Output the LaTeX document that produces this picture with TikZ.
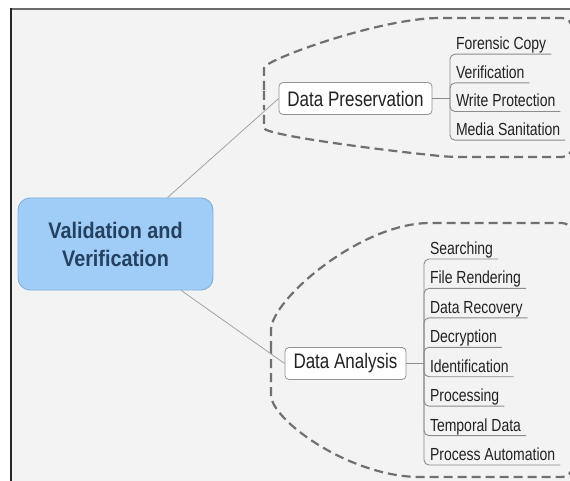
\documentclass[tikz,border=0pt]{standalone}
\usepackage{fontspec}
\setmainfont{Liberation Sans}
\newfontfamily\leaffont[FakeStretch=0.8]{Liberation Sans}
\newfontfamily\topicfont[FakeStretch=0.81]{Liberation Sans}
\newfontfamily\centralfont[FakeStretch=0.88]{Liberation Sans}

\definecolor{canvas}{HTML}{F3F3F3}
\definecolor{centralfill}{HTML}{A0CDF7}
\definecolor{centraledge}{HTML}{86AED6}
\definecolor{centraltext}{HTML}{26415F}
\definecolor{zoneline}{HTML}{707070}
\definecolor{branchline}{HTML}{A3A3A3}
\definecolor{twigline}{HTML}{8C8C8C}
\definecolor{inktext}{HTML}{222222}

\tikzset{
  central/.style={draw=centraledge, line width=0.9pt, fill=centralfill,
    rounded corners=12pt, minimum width=195pt, minimum height=92pt,
    align=center, text=centraltext,
    font=\centralfont\bfseries\fontsize{22.5}{28}\selectfont},
  topic/.style={draw=branchline!90!black, line width=0.8pt, fill=white,
    rounded corners=4pt, minimum height=32pt, text=inktext,
    font=\topicfont\fontsize{21}{24}\selectfont},
  leaf/.style={inner xsep=0pt, inner ysep=0pt, text depth=0pt,
    text height=13pt, outer sep=0pt, anchor=south west, text=inktext,
    font=\leaffont\fontsize{17.5}{20}\selectfont},
  zone/.style={draw=zoneline, line width=2.2pt, dash pattern=on 9pt off 5pt,
    rounded corners=10pt},
  branch/.style={draw=branchline, line width=0.8pt},
  twig/.style={draw=twigline, line width=0.9pt, rounded corners=5pt},
}

\begin{document}
\begin{tikzpicture}[x=1pt,y=-1pt]
\useasboundingbox (0,0) rectangle (570,481);
\fill[white] (0,0) rectangle (570,481);
\fill[canvas] (11,9) rectangle (570,481);
\draw[gray!85!black, line width=1.8pt] (11,9) -- (570,9);
\draw[black!85, line width=1.6pt] (11,8.2) -- (11,481);

% dashed boundaries around the two branches
\draw[zone] (264,100) -- (264,78) .. controls (264,60) and (380,18) .. (450,18)
  -- (572,18) -- (572,157) -- (450,157)
  .. controls (380,150) and (264,135) .. (264,118) -- cycle;
\draw[zone] (271,360) -- (271,340) .. controls (271,300) and (360,223) .. (440,223)
  -- (572,223) -- (572,477) -- (430,477)
  .. controls (350,477) and (271,420) .. (271,385) -- cycle;

% main topic and branches
\node[central] (vv) at (115.5,244) {Validation and\\Verification};
\node[topic, minimum width=153pt] (dp) at (355.5,98.5) {Data Preservation};
\node[topic, minimum width=121pt] (da) at (345.5,363.5) {Data Analysis};

\draw[branch] (vv) -- (dp.west);
\draw[branch] (vv) -- (da.west);

% subtopics of Data Preservation
\coordinate (dpb) at (450,98.5);
\draw[twig, rounded corners=0pt] (dp.east) -- (dpb);
\foreach \name/\txt/\y in {fc/Forensic Copy/54.2, vf/Verification/82.9,
    wp/Write Protection/111.5, ms/Media Sanitation/140.2}{
  \node[leaf] (\name) at (456,\y-4.5) {\txt};
  \draw[twig] (dpb) -- (dpb |- 0,\y) -- ([xshift=5pt]\name.east |- 0,\y);
}

% subtopics of Data Analysis
\coordinate (dab) at (424,363.5);
\draw[twig, rounded corners=0pt] (da.east) -- (dab);
\foreach \name/\txt/\y in {sr/Searching/259, fr/File Rendering/288.4,
    dr/Data Recovery/317.9, dc/Decryption/347.3, id/Identification/376.7,
    pr/Processing/406.1, td/Temporal Data/435.6, pa/Process Automation/465}{
  \node[leaf] (\name) at (430,\y-4.5) {\txt};
  \draw[twig] (dab) -- (dab |- 0,\y) -- ([xshift=5pt]\name.east |- 0,\y);
}
\end{tikzpicture}
\end{document}
